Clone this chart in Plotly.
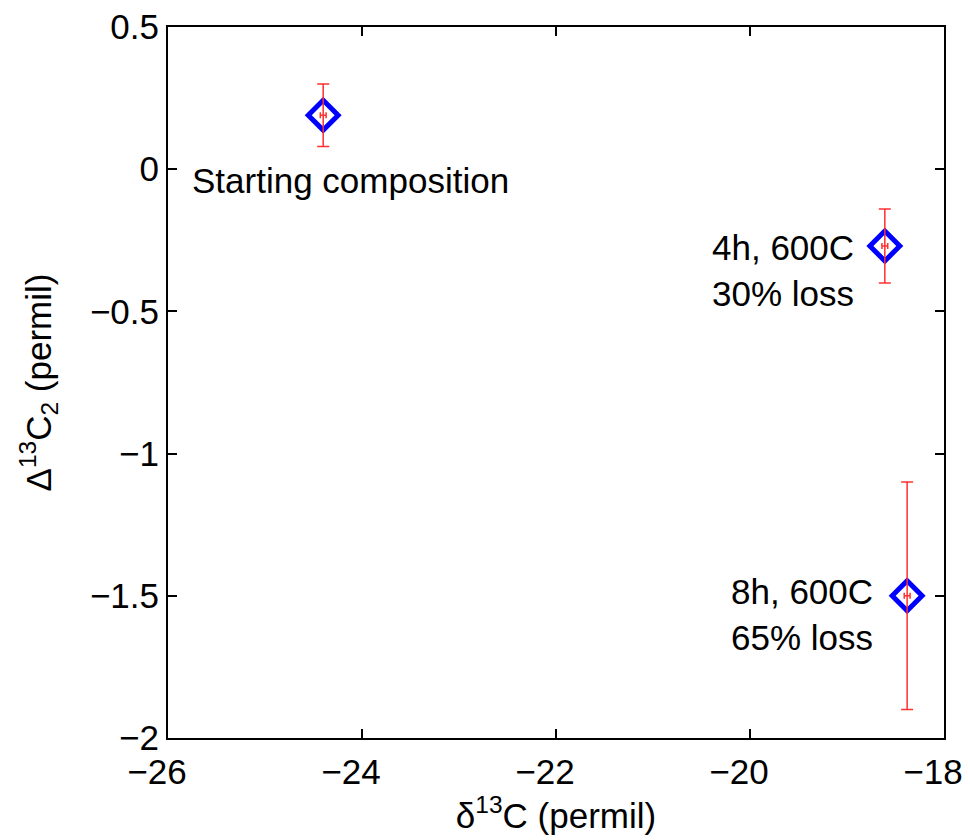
import plotly.graph_objects as go

x_vals = [-24.40, -18.61, -18.38]
y_vals = [0.19, -0.27, -1.50]
x_err = [0.03, 0.03, 0.03]
y_err = [0.11, 0.13, 0.40]
labels = ["Starting composition", "4h, 600C<br>30% loss", "8h, 600C<br>65% loss"]
label_x = [-25.77, -19.66, -19.46]
label_y = [-0.04, -0.355, -1.564]
label_anchor = ["left", "center", "center"]
x_ticks = [-26, -24, -22, -20, -18]
y_ticks = [0.5, 0, -0.5, -1, -1.5, -2]

FS = 35

def fmt(v):
    s = ("%g" % v)
    return s.replace("-", "\u2212")

fig = go.Figure()
fig.add_trace(go.Scatter(
    x=x_vals, y=y_vals, mode="markers",
    marker=dict(symbol="diamond-open", size=23, color="#0000ff", line=dict(width=5, color="#0000ff")),
    showlegend=False, hoverinfo="skip"))
fig.add_trace(go.Scatter(
    x=x_vals, y=y_vals, mode="markers",
    marker=dict(size=1, color="rgba(0,0,0,0)"),
    error_y=dict(type="data", array=y_err, color="#ff3030", thickness=1.5, width=6),
    error_x=dict(type="data", array=x_err, color="#ff3030", thickness=1.5, width=3),
    showlegend=False, hoverinfo="skip"))

for t, lx, ly, a in zip(labels, label_x, label_y, label_anchor):
    fig.add_annotation(x=lx, y=ly, text=t, showarrow=False, xanchor=a, yanchor="middle",
                       align="center", font=dict(size=FS, color="black"))

axis_common = dict(showgrid=False, zeroline=False, showline=True, linecolor="black", linewidth=2,
                   mirror="ticks", ticks="inside", ticklen=9, tickwidth=1.5, tickcolor="black",
                   tickfont=dict(size=FS, color="black"), automargin=False,
                   ticklabeloverflow="allow")
fig.update_xaxes(range=[-26, -18], tickvals=x_ticks,
                 ticktext=[fmt(v) for v in x_ticks], ticklabelshift=-11, ticklabelstandoff=2,
                 title=dict(text="\u03b4<sup>13</sup>C (permil)", font=dict(size=FS, color="black"), standoff=0),
                 **axis_common)
fig.update_yaxes(range=[-2, 0.5], tickvals=y_ticks, ticktext=[fmt(v) for v in y_ticks],
                 title=dict(text="\u0394<sup>13</sup>C<sub>2</sub> (permil)", font=dict(size=FS, color="black"), standoff=28),
                 **axis_common)
fig.update_layout(width=970, height=840, margin=dict(l=168, r=26, t=27, b=102),
                  plot_bgcolor="white", paper_bgcolor="white",
                  font=dict(family="Liberation Sans, Arial, sans-serif", color="black"))
fig.write_html("out.html")
